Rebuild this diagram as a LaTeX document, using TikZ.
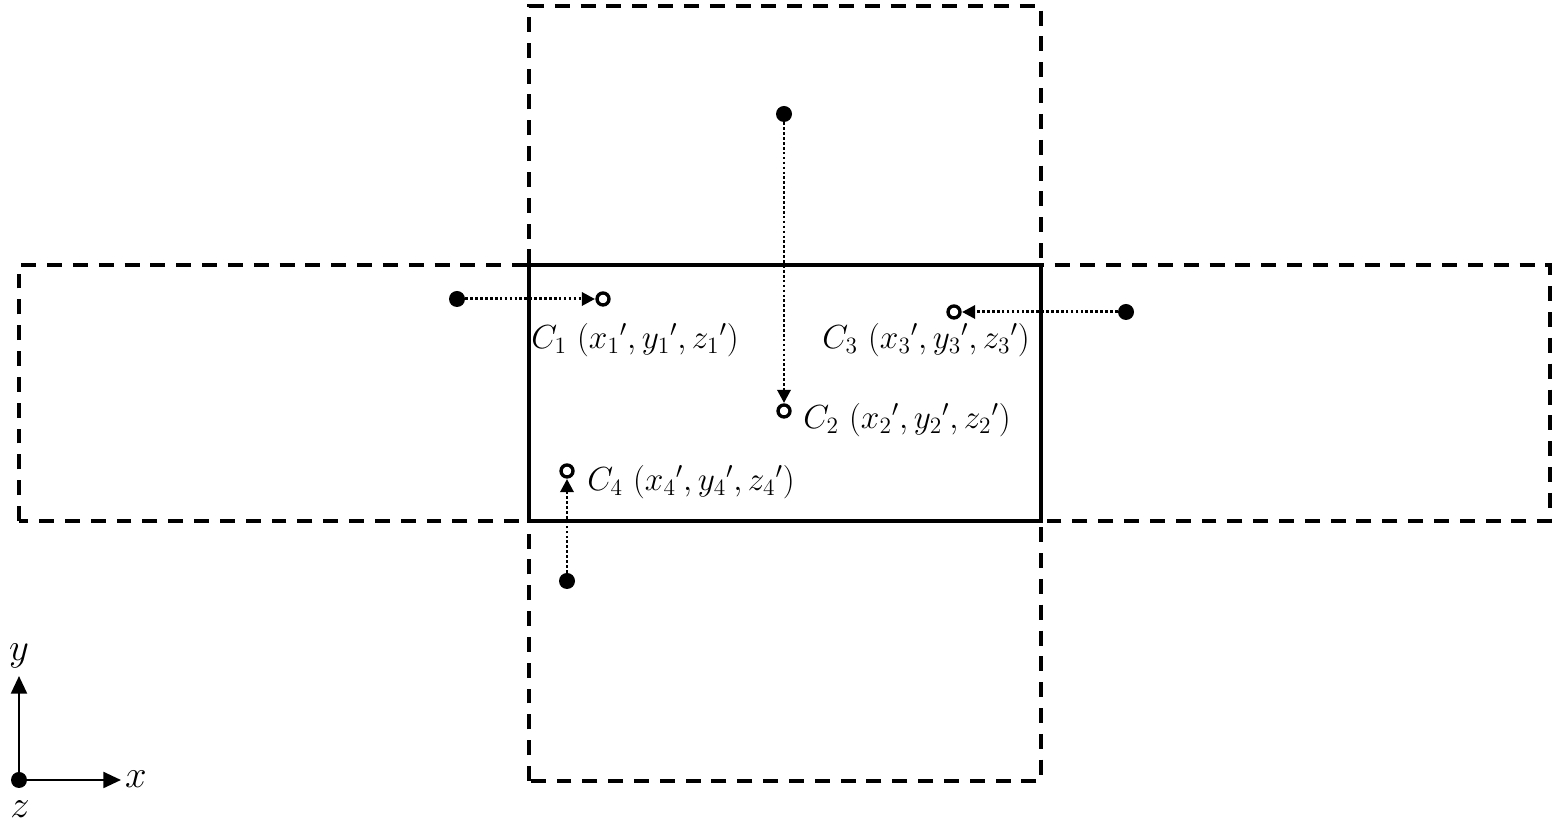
\RequirePackage{fix-cm}
\documentclass[tikz,border=0pt]{standalone}
\usetikzlibrary{arrows.meta}
\tikzset{
  fdot/.style={circle,fill=black,inner sep=0pt,minimum size=0.32cm},
  odot/.style={circle,draw=black,fill=white,line width=1.9pt,inner sep=0pt,minimum size=0.24cm},
  mv/.style={line width=1.7pt,dash pattern=on 1.5pt off 1.3pt,-{Triangle[length=7.5pt,width=7.5pt]},shorten >=0.2pt},
  zone/.style={line width=1.9pt,dash pattern=on 8.5pt off 6.2pt},
  lbl/.style={anchor=west,inner sep=0pt,font=\fontsize{19}{22}\selectfont}
}
\begin{document}
\begin{tikzpicture}
         \useasboundingbox (0,0) rectangle (31.16,16.6);
         %\draw[very thin,gray,step=0.5] (0,0) grid (31,16.5) ;
         \draw[zone] (0.38,6.18) rectangle (31.0,11.30) ;
         \draw[zone] (10.58,0.98) rectangle (20.82,16.48) ;
         \draw[line width=2pt,fill=white] (10.58,6.18) rectangle (20.82,11.30) ;
         % points and moves
         \node[fdot] (p1) at (9.14,10.62) {};
         \node[odot] (c1) at (12.06,10.62) {};
         \node[fdot] (p2) at (15.68,14.32) {};
         \node[odot] (c2) at (15.68,8.38) {};
         \node[fdot] (p3) at (22.52,10.36) {};
         \node[odot] (c3) at (19.08,10.36) {};
         \node[fdot] (p4) at (11.34,4.98) {};
         \node[odot] (c4) at (11.34,7.18) {};
         \draw[mv] (p1) -- (c1) ;
         \draw[mv] (p2) -- (c2) ;
         \draw[mv] (p3) -- (c3) ;
         \draw[mv] (p4) -- (c4) ;
         \node[lbl] (l1) at (10.62,9.8) {$C_1\ ({x_1}',{y_1}',{z_1}')$};
         \node[lbl] (l2) at (16.06,8.2) {$C_2\ ({x_2}',{y_2}',{z_2}')$};
         \node[lbl] (l3) at (16.44,9.8) {$C_3\ ({x_3}',{y_3}',{z_3}')$};
         \node[lbl] (l4) at (11.74,6.96) {$C_4\ ({x_4}',{y_4}',{z_4}')$};
         % axes
         \node[fdot] (o) at (0.38,1.0) {};
         \coordinate (ex) at (2.42,1.0) ;
         \coordinate (ey) at (0.38,3.08) ;
         \draw[line width=1.4pt,-{Triangle[length=10pt,width=9pt]}] (o.center) -- (ex) ;
         \draw[line width=1.4pt,-{Triangle[length=10pt,width=9pt]}] (o.center) -- (ey) ;
         \node[font=\fontsize{22}{24}\selectfont,inner sep=0pt] (lx) at (2.72,1.02) {$x$};
         \node[font=\fontsize{22}{24}\selectfont,inner sep=0pt] (ly) at (0.38,3.48) {$y$};
         \node[font=\fontsize{22}{24}\selectfont,inner sep=0pt] (lz) at (0.4,0.42) {$z$};
\end{tikzpicture}
\end{document}
